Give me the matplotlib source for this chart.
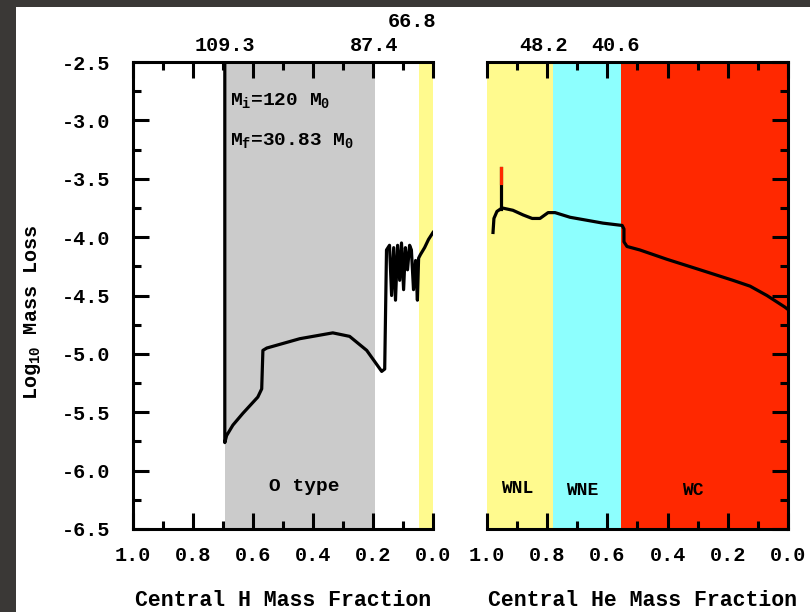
import numpy as np
import matplotlib
matplotlib.use('Agg')
import matplotlib.pyplot as plt
from matplotlib.ticker import MultipleLocator, FormatStrFormatter
from matplotlib.patches import Rectangle

plt.rcParams['font.family'] = ['Liberation Mono', 'DejaVu Sans Mono']
plt.rcParams['font.weight'] = 'bold'
plt.rcParams['mathtext.default'] = 'regular'
plt.rcParams['axes.unicode_minus'] = False

# central H phase: (X_c, log10 mass loss)
h_x = [0.694, 0.694, 0.688, 0.667, 0.634, 0.584, 0.571, 0.567, 0.554, 0.444,
       0.334, 0.278, 0.221, 0.171, 0.161, 0.155, 0.145, 0.138, 0.131, 0.125,
       0.118, 0.111, 0.105, 0.098, 0.092, 0.085, 0.078, 0.072, 0.065, 0.058,
       0.052, 0.048, 0.042, 0.028, 0.015, 0.0]
h_y = [-2.3, -5.76, -5.70, -5.61, -5.51, -5.37, -5.30, -4.97, -4.95, -4.87,
       -4.82, -4.85, -4.97, -5.15, -5.13, -4.11, -4.07, -4.50, -4.09, -4.54,
       -4.07, -4.37, -4.05, -4.45, -4.09, -4.28, -4.07, -4.11, -4.45, -4.20,
       -4.54, -4.18, -4.15, -4.09, -4.02, -3.96]

# central He phase
he_x = [0.980, 0.977, 0.967, 0.950, 0.914, 0.880, 0.850, 0.824, 0.797, 0.774,
        0.724, 0.615, 0.551, 0.545, 0.545, 0.535, 0.492, 0.402, 0.292, 0.183,
        0.126, 0.070, 0.010, 0.0]
he_y = [-3.96, -3.84, -3.78, -3.75, -3.77, -3.81, -3.84, -3.84, -3.79, -3.79,
        -3.83, -3.88, -3.90, -3.93, -4.04, -4.08, -4.11, -4.19, -4.28, -4.37,
        -4.42, -4.50, -4.60, -4.62]
he_spike_x = [0.953, 0.953]
he_spike_y = [-3.76, -3.41]
he_spike_red = [-3.54, -3.41]

# phase boundaries and masses at them
h_bounds = [0.694, 0.195, 0.048]
h_masses = ['109.3', '87.4', '66.8']
he_bounds = [0.781, 0.555]
he_masses = ['48.2', '40.6']

gray = '#cbcbcb'
yellow = '#fffa8e'
cyan = '#8dfffe'
red = '#ff2800'

fig = plt.figure(figsize=(8.1, 6.12), dpi=100, facecolor='#3a3836')
fig.patches.append(Rectangle((16/810, 0), 1, 1 - 7/612, transform=fig.transFigure,
                             facecolor='white', edgecolor='none', zorder=-10))

ax1 = fig.add_axes([133/810, 83/612, 300/810, 467/612])
ax2 = fig.add_axes([487/810, 83/612, 301/810, 467/612])

for ax in (ax1, ax2):
    ax.set_zorder(5)
    ax.set_xlim(1.0, 0.0)
    ax.set_ylim(-6.5, -2.5)
    ax.xaxis.set_major_locator(MultipleLocator(0.2))
    ax.xaxis.set_minor_locator(MultipleLocator(0.1))
    ax.yaxis.set_major_locator(MultipleLocator(0.5))
    ax.yaxis.set_minor_locator(MultipleLocator(0.25))
    ax.xaxis.set_major_formatter(FormatStrFormatter('%.1f'))
    ax.yaxis.set_major_formatter(FormatStrFormatter('%.1f'))
    ax.tick_params(which='major', direction='in', length=11.5, width=2.2,
                   labelsize=14.5, top=True)
    ax.tick_params(which='minor', direction='in', length=6, width=2.2, top=True)
    ax.tick_params(axis='x', which='major', pad=12)
    for s in ax.spines.values():
        s.set_linewidth(2.2)

ax1.spines['right'].set_visible(False)
ax1.tick_params(axis='y', which='both', right=False, pad=16)
ax2.spines['left'].set_visible(False)
ax2.yaxis.tick_right()
ax2.tick_params(axis='y', which='both', left=False, right=True, labelright=False)

# shaded phases
ax1.axvspan(h_bounds[0], h_bounds[1], color=gray, lw=0, zorder=0)
ax1.axvspan(h_bounds[2], 0.0, color=yellow, lw=0, zorder=0)
ax2.axvspan(1.0, he_bounds[0], color=yellow, lw=0, zorder=0)
ax2.axvspan(he_bounds[0], he_bounds[1], color=cyan, lw=0, zorder=0)
ax2.axvspan(he_bounds[1], 0.0, color=red, lw=0, zorder=0)

ax1.plot(h_x, h_y, color='black', lw=2.3, solid_joinstyle='round')
ax2.plot(he_x, he_y, color='black', lw=2.3, solid_joinstyle='round')
ax2.plot(he_spike_x, he_spike_y, color='black', lw=2.3)
ax2.plot(he_spike_x, he_spike_red, color=red, lw=2.3)

# masses at phase boundaries along the top
offs_h = [(0, 7), (0, 7), (-7, 31)]
for b, m, o in zip(h_bounds, h_masses, offs_h):
    ax1.annotate(m, xy=(b, 1.0), xycoords=('data', 'axes fraction'),
                 xytext=o, textcoords='offset pixels', ha='center', va='bottom',
                 fontsize=14.5, fontweight='bold')
offs_he = [(-9, 7), (-5, 7)]
for b, m, o in zip(he_bounds, he_masses, offs_he):
    ax2.annotate(m, xy=(b, 1.0), xycoords=('data', 'axes fraction'),
                 xytext=o, textcoords='offset pixels', ha='center', va='bottom',
                 fontsize=14.5, fontweight='bold')

ax1.text(0.677, -2.83, 'M$_i$=120 M$_0$', fontsize=14, ha='left', va='center')
ax1.text(0.677, -3.17, 'M$_f$=30.83 M$_0$', fontsize=14, ha='left', va='center')
ax1.text(0.428, -6.14, 'O type', fontsize=14, ha='center', va='center')
ax2.text(0.900, -6.15, 'WNL', fontsize=13, ha='center', va='center')
ax2.text(0.684, -6.17, 'WNE', fontsize=13, ha='center', va='center')
ax2.text(0.316, -6.17, 'WC', fontsize=13, ha='center', va='center')

fig.text(283/810, 1 - 601/612, 'Central H Mass Fraction', fontsize=15.5,
         ha='center', va='center')
fig.text(643/810, 1 - 601/612, 'Central He Mass Fraction', fontsize=15.5,
         ha='center', va='center')
fig.text(33/810, 1 - 312/612, 'Log$_{10}$ Mass Loss', fontsize=14.5,
         rotation=90, ha='center', va='center')

fig.savefig('out.png', dpi=100, facecolor=fig.get_facecolor())
